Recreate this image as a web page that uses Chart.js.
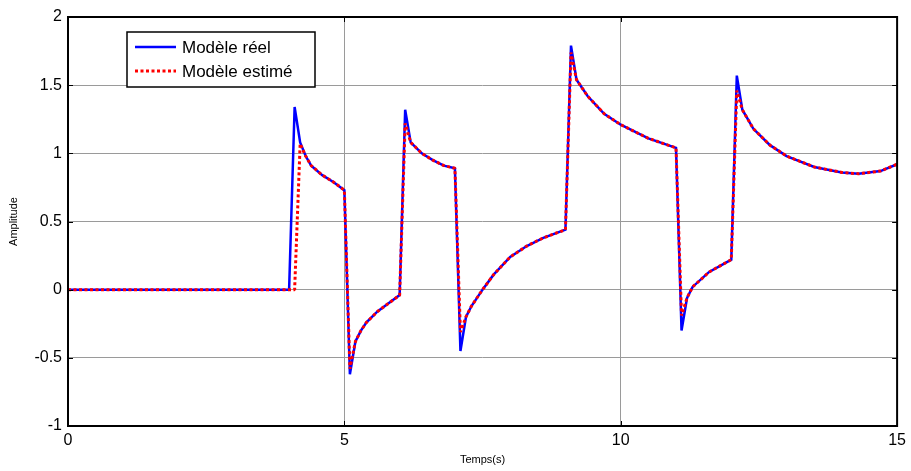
<!DOCTYPE html>
<html>
<head>
<meta charset="utf-8">
<script src="https://cdn.jsdelivr.net/npm/chart.js@4/dist/chart.umd.min.js"></script>
<style>
  body { margin: 0; background: #fff; }
</style>
</head>
<body>
<canvas id="chart" width="911" height="471"></canvas>
<script>
const ctx = document.getElementById('chart');

// sample times (s)
const temps = [0, 4.0, 4.1, 4.2, 4.3, 4.4, 4.6, 4.8, 5.0, 5.1, 5.2, 5.3, 5.4, 5.6, 5.8, 6.0,
    6.1, 6.2, 6.4, 6.6, 6.8, 7.0, 7.1, 7.2, 7.3, 7.5, 7.7, 8.0, 8.3, 8.6, 9.0,
    9.1, 9.2, 9.4, 9.7, 10.0, 10.5, 11.0, 11.1, 11.2, 11.3, 11.6, 12.0,
    12.1, 12.2, 12.4, 12.7, 13.0, 13.5, 14.0, 14.3, 14.7, 15.0];

const modeleReel = [0, 0, 1.34, 1.08, 0.98, 0.91, 0.84, 0.79, 0.73, -0.62, -0.38, -0.30, -0.24, -0.16, -0.10, -0.04,
    1.32, 1.08, 1.00, 0.95, 0.91, 0.89, -0.45, -0.20, -0.12, 0.00, 0.11, 0.24, 0.32, 0.38, 0.44,
    1.79, 1.54, 1.42, 1.29, 1.21, 1.11, 1.04, -0.30, -0.06, 0.02, 0.13, 0.22,
    1.57, 1.32, 1.18, 1.06, 0.98, 0.90, 0.86, 0.85, 0.87, 0.92];

const modeleEstime = [0, 0, 0, 1.07, 0.98, 0.91, 0.84, 0.79, 0.73, -0.58, -0.38, -0.30, -0.24, -0.16, -0.10, -0.04,
    1.22, 1.08, 1.00, 0.95, 0.91, 0.89, -0.31, -0.20, -0.12, 0.00, 0.11, 0.24, 0.32, 0.38, 0.44,
    1.74, 1.54, 1.42, 1.29, 1.21, 1.11, 1.04, -0.19, -0.06, 0.02, 0.13, 0.22,
    1.46, 1.32, 1.18, 1.06, 0.98, 0.90, 0.86, 0.85, 0.87, 0.92];

const legendLabels = ['Modèle réel', 'Modèle estimé'];

const font = 'Liberation Sans, Arial, sans-serif';

// frame, inward ticks and matlab-like legend box
const matlabFrame = {
    id: 'matlabFrame',
    afterDraw(chart) {
        const { ctx, chartArea: a, scales } = chart;
        ctx.save();
        ctx.strokeStyle = '#000';
        ctx.lineWidth = 1;
        ctx.beginPath();
        scales.x.ticks.forEach(t => {
            const px = Math.round(scales.x.getPixelForValue(t.value)) + 0.5;
            ctx.moveTo(px, a.bottom); ctx.lineTo(px, a.bottom - 5);
            ctx.moveTo(px, a.top); ctx.lineTo(px, a.top + 5);
        });
        scales.y.ticks.forEach(t => {
            const py = Math.round(scales.y.getPixelForValue(t.value)) + 0.5;
            ctx.moveTo(a.left, py); ctx.lineTo(a.left + 5, py);
            ctx.moveTo(a.right, py); ctx.lineTo(a.right - 5, py);
        });
        ctx.stroke();
        ctx.lineWidth = 2;
        ctx.strokeRect(a.left, a.top, a.right - a.left, a.bottom - a.top);

        // legend
        const lx = 127, ly = 32, lw = 188, lh = 55;
        ctx.fillStyle = '#fff';
        ctx.fillRect(lx, ly, lw, lh);
        ctx.lineWidth = 1.5;
        ctx.strokeRect(lx, ly, lw, lh);
        ctx.font = '17px ' + font;
        ctx.textBaseline = 'middle';
        chart.data.datasets.forEach((ds, i) => {
            const y = ly + 15 + i * 24;
            ctx.strokeStyle = ds.borderColor;
            ctx.lineWidth = ds.borderWidth;
            ctx.setLineDash(ds.borderDash || []);
            ctx.beginPath();
            ctx.moveTo(lx + 8, y); ctx.lineTo(lx + 49, y);
            ctx.stroke();
            ctx.setLineDash([]);
            ctx.fillStyle = '#000';
            ctx.fillText(ds.label, lx + 55, y + 1);
        });
        ctx.restore();
    }
};

const config = {
    type: 'line',
    data: {
        datasets: [
            {
                label: legendLabels[0],
                data: temps.map((t, i) => ({ x: t, y: modeleReel[i] })),
                borderColor: '#0000ff',
                borderWidth: 2.5,
                pointRadius: 0,
                tension: 0,
                fill: false,
                order: 1
            },
            {
                label: legendLabels[1],
                data: temps.map((t, i) => ({ x: t, y: modeleEstime[i] })),
                borderColor: '#ff0000',
                borderWidth: 3,
                borderDash: [3, 2.5],
                borderJoinStyle: 'bevel',
                pointRadius: 0,
                tension: 0,
                fill: false,
                order: 0
            }
        ]
    },
    options: {
        responsive: false,
        animation: false,
        layout: { padding: { left: 0, right: 13, top: 17, bottom: 0 } },
        plugins: {
            legend: { display: false },
            tooltip: { enabled: false }
        },
        scales: {
            x: {
                type: 'linear',
                min: 0,
                max: 15,
                afterFit: s => { s.height = 45; },
                ticks: { stepSize: 5, color: '#000', padding: 5, font: { family: font, size: 16 } },
                grid: { color: '#9a9a9a', drawTicks: false },
                border: { display: false },
                title: { display: true, text: 'Temps(s)', color: '#000', font: { family: font, size: 11 }, padding: { top: 0, bottom: 4 } }
            },
            y: {
                min: -1,
                max: 2,
                afterFit: s => { s.width = 68; },
                ticks: { stepSize: 0.5, color: '#000', padding: 6, font: { family: font, size: 16 }, callback: v => String(v) },
                grid: { color: '#9a9a9a', drawTicks: false },
                border: { display: false },
                title: { display: true, text: 'Amplitude', color: '#000', font: { family: font, size: 11 }, padding: { top: 7, bottom: 0 } }
            }
        }
    },
    plugins: [matlabFrame]
};

const myChart = new Chart(ctx, config);
</script>
</body>
</html>
